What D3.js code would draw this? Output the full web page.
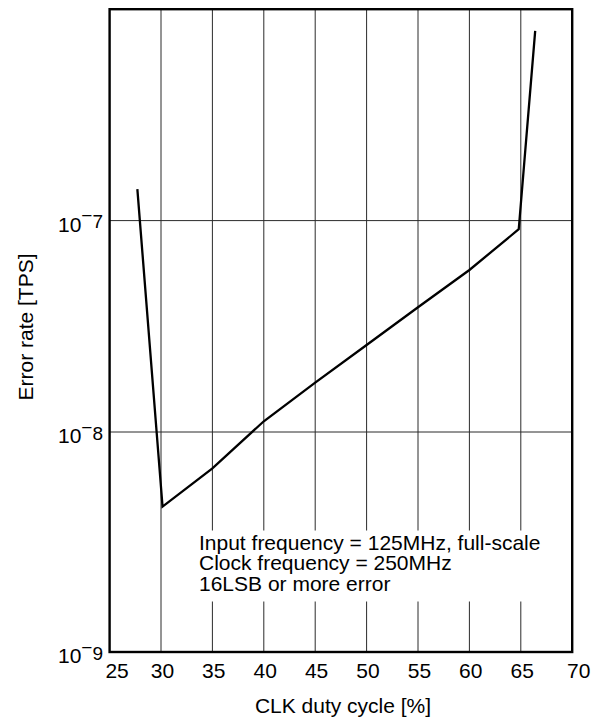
<!DOCTYPE html>
<html>
<head>
<meta charset="utf-8">
<script src="https://cdn.jsdelivr.net/npm/d3@7"></script>
<style>
  html, body { margin: 0; padding: 0; background: #fff; }
  svg { display: block; }
  text { font-family: "Liberation Sans", Arial, Helvetica, sans-serif; fill: #000; }
</style>
</head>
<body>
<svg id="chart" width="596" height="722"></svg>
<script>
// ---- data ----
const dutyCycle = [27.7, 30.15, 35, 40, 45, 50, 55, 60, 64.8, 66.4];
const errorRate = [1.41e-7, 4.58e-9, 6.84e-9, 1.124e-8, 1.711e-8, 2.58e-8, 3.89e-8, 5.84e-8, 9.1e-8, 7.9e-7];
const xTicks = [25, 30, 35, 40, 45, 50, 55, 60, 65, 70];
const yTickExps = [-9, -8, -7];
const yGridExps = [-8, -7];
const noteLines = [
  "Input frequency = 125MHz, full-scale",
  "Clock frequency = 250MHz",
  "16LSB or more error"
];
const xTitle = "CLK duty cycle [%]";
const yTitle = "Error rate [TPS]";

// ---- layout ----
const svg = d3.select("#chart");
const pLeft = 109.6, pRight = 572.2, pTop = 9.2, pBottom = 652;

const x = d3.scaleLinear().domain([25, 70]).range([pLeft, pRight]);
const y = d3.scaleLog().domain([1e-9, 1e-8, 1e-6]).range([pBottom, 432, pTop]);

// vertical grid lines
svg.append("g").selectAll("line")
  .data(xTicks.slice(1, -1))
  .join("line")
  .attr("x1", d => x(d)).attr("x2", d => x(d))
  .attr("y1", pTop).attr("y2", pBottom)
  .attr("stroke", "#2b2b2b").attr("stroke-width", 1);

// horizontal grid lines
svg.append("g").selectAll("line")
  .data(yGridExps)
  .join("line")
  .attr("x1", pLeft).attr("x2", pRight)
  .attr("y1", d => y(Math.pow(10, d))).attr("y2", d => y(Math.pow(10, d)))
  .attr("stroke", "#2b2b2b").attr("stroke-width", 1);

// annotation box (white background interrupting the grid)
svg.append("rect")
  .attr("x", 193).attr("y", 530.5)
  .attr("width", pRight - 193).attr("height", 71)
  .attr("fill", "#fff");

const note = svg.append("text")
  .attr("x", 199).attr("y", 550)
  .attr("font-size", 21);
noteLines.forEach((t, i) => {
  note.append("tspan").attr("x", 199).attr("y", 550 + i * 20.4).text(t);
});

// curve
const pts = dutyCycle.map((d, i) => [d, errorRate[i]]);
svg.append("path")
  .datum(pts)
  .attr("fill", "none")
  .attr("stroke", "#000")
  .attr("stroke-width", 2.3)
  .attr("stroke-linejoin", "miter")
  .attr("d", d3.line().x(d => x(d[0])).y(d => y(d[1])));

// frame
svg.append("rect")
  .attr("x", pLeft).attr("y", pTop)
  .attr("width", pRight - pLeft).attr("height", pBottom - pTop)
  .attr("fill", "none")
  .attr("stroke", "#000")
  .attr("stroke-width", 2.4);

// x tick labels
svg.append("g").selectAll("text")
  .data(xTicks)
  .join("text")
  .attr("x", (d, i) => x(d) + (i === 0 ? 7.5 : (i === xTicks.length - 1 ? 6.5 : 1.4)))
  .attr("y", pBottom + 26.3)
  .attr("text-anchor", "middle")
  .attr("font-size", 21)
  .text(d => d);

// y tick labels: 10 with superscript exponent
const yl = svg.append("g").selectAll("text")
  .data(yTickExps)
  .join("text")
  .attr("x", 103)
  .attr("y", d => y(Math.pow(10, d)) + 11.2)
  .attr("text-anchor", "end")
  .attr("font-size", 21);
yl.append("tspan").text("10");
yl.append("tspan").attr("font-size", 19).attr("dy", -9.4).text("\u2212");
yl.append("tspan").attr("font-size", 19).attr("dy", 6).text(d => Math.abs(d));

// axis titles
svg.append("text")
  .attr("x", 343).attr("y", 713)
  .attr("text-anchor", "middle")
  .attr("font-size", 21)
  .text(xTitle);

svg.append("text")
  .attr("transform", "translate(32.5,327) rotate(-90)")
  .attr("text-anchor", "middle")
  .attr("font-size", 21)
  .text(yTitle);
</script>
</body>
</html>
